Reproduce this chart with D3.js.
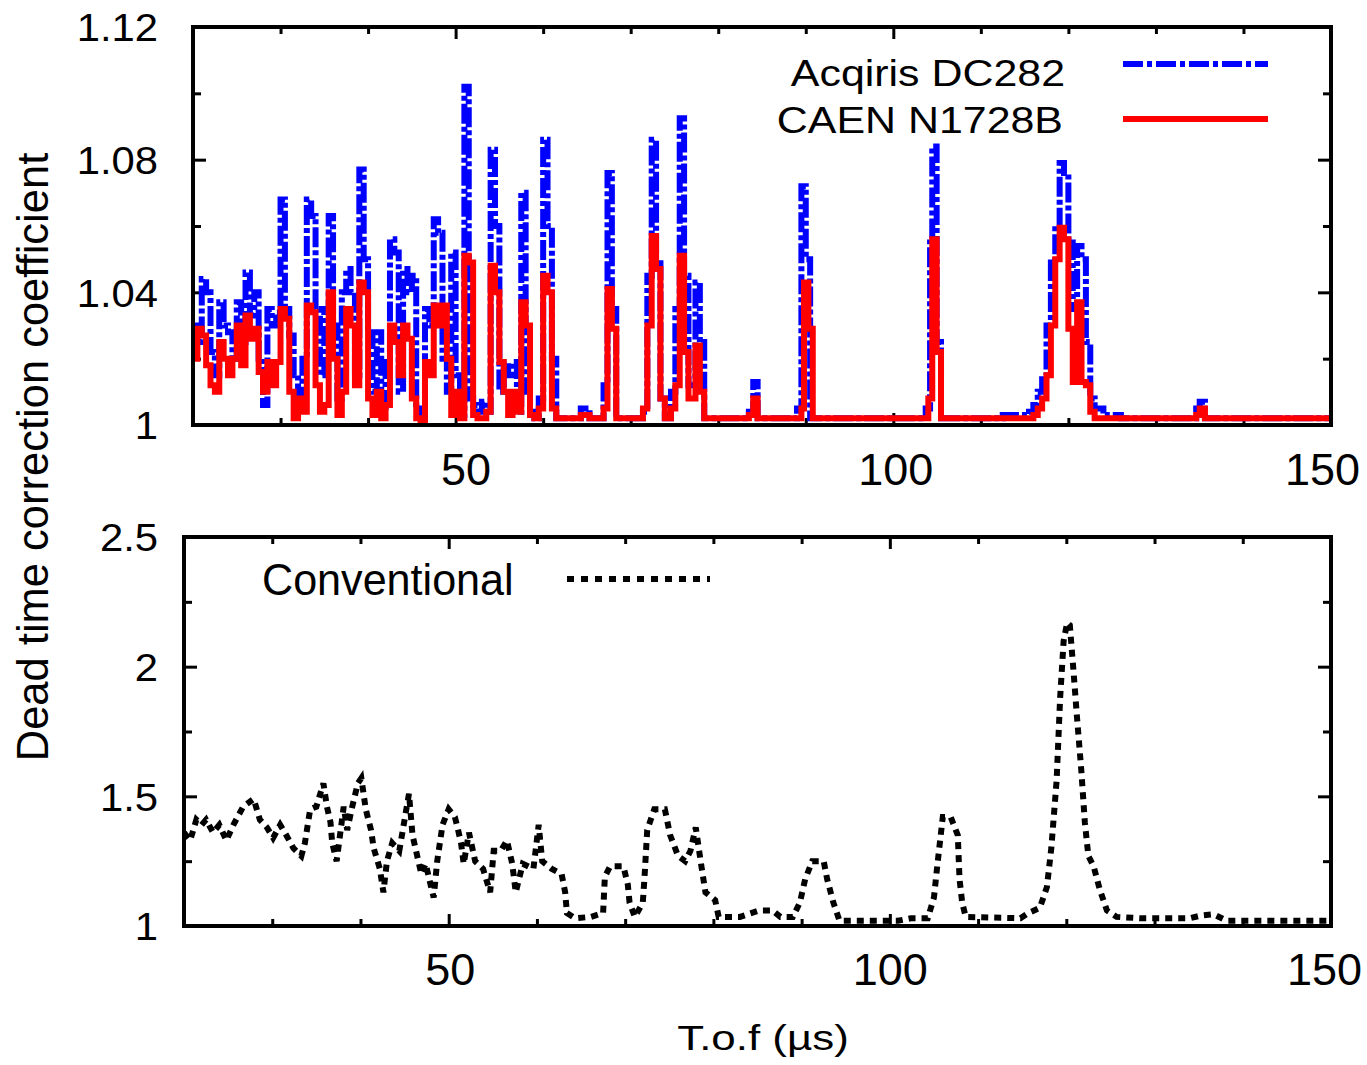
<!DOCTYPE html>
<html lang="en">
<head>
<meta charset="UTF-8">
<title>Dead time correction coefficient</title>
<script src="https://cdn.jsdelivr.net/npm/d3@7"></script>
<style>
    body {
        margin: 0;
        background: #fff;
    }
    svg text {
        font-family: 'Liberation Sans', Arial, Helvetica, sans-serif;
        fill: #000;
    }
    .tick line {
        stroke: #000;
        stroke-width: 3;
    }
    .xLab text {
        font-size: 45px;
    }
    .yLab text {
        font-size: 38px;
    }
</style>
</head>
<body>
<svg id="fig" width="1367" height="1065"></svg>
<script>
// ---- data ----
// top panel, Acqiris DC282 (blue, step line)
const acqT = [20,20.5,21,21.5,22,22.5,23,23.5,24,24.5,25,25.5,26,26.5,27,27.5,28,28.5,29,29.5,
    30,30.5,31,31.5,32,32.5,33,33.5,34,34.5,35,35.5,36,36.5,37,37.5,38,38.5,39,39.5,
    40,40.5,41,41.5,42,42.5,43,43.5,44,44.5,45,45.5,46,46.5,47,47.5,48,48.5,49,49.5,
    50,50.5,51,51.5,52,52.5,53,53.5,54,54.5,55,55.5,56,56.5,57,57.5,58,58.5,59,59.5,
    60,60.5,61,61.5,
    64.3,65.3,66.9,67.35,67.85,68.35,71.4,71.9,72.4,72.9,73.4,73.9,74.6,75.1,75.6,76.1,76.6,
    77.4,77.9,78.4,83.5,84,84.5,89,89.5,90,90.5,103.7,104.2,104.45,104.95,105.45,112.5,115.5,
    116,116.5,117,117.5,118,118.5,119,119.5,120,120.5,121,121.5,122,122.5,123,124,126,
    134.6,135,135.6,150]
const acqV = [1.030,1.025,1.044,1.040,1.022,1.015,1.037,1.030,1.028,1.020,1.037,1.025,1.046,1.033,1.040,1.020,1.006,1.035,1.030,1.034,
    1.068,1.035,1.027,1.015,1.005,1.020,1.068,1.063,1.035,1.015,1.035,1.063,1.030,1.008,1.040,1.047,1.040,1.015,1.077,1.050,
    1.028,1.010,1.028,1.004,1.020,1.056,1.052,1.010,1.047,1.040,1.045,1.005,1.002,1.035,1.030,1.062,1.058,1.020,1.010,1.052,
    1.015,1.003,1.102,1.008,1.006,1.004,1.007,1.004,1.083,1.060,1.010,1.019,1.015,1.019,1.004,1.070,1.010,1.004,1.002,1.008,
    1.086,1.060,1.020,1.002,
    1.005,1.002,1.012,1.076,1.035,1.002,1.004,1.045,1.086,1.050,1.008,1.002,1.010,1.035,1.0925,1.045,1.012,
    1.043,1.025,1.002,1.004,1.013,1.002,1.005,1.072,1.050,1.002,1.005,1.055,1.084,1.025,1.002,1.003,1.004,
    1.006,1.010,1.015,1.030,1.049,1.060,1.079,1.076,1.055,1.035,1.054,1.050,1.025,1.008,1.005,1.003,1.002,
    1.005,1.007,1.002,1.002]

// top panel, CAEN N1728B (red, step line)
const caenT = [20,20.5,21,21.5,22,22.5,23,23.5,24,24.5,25,25.5,26,26.5,27,27.5,28,28.5,29,29.5,
    30,30.5,31,31.5,32,32.5,33,33.5,34,34.5,35,35.5,36,36.5,37,37.5,38,38.5,39,39.5,
    40,40.5,41,41.5,42,42.5,43,43.5,44,44.5,45,45.5,46,46.5,47,47.5,48,48.5,49,49.5,
    50,50.5,51,51.5,52,52.5,53,53.5,54,54.5,55,55.5,56,56.5,57,57.5,58,58.5,59,59.5,
    60,60.5,61,61.5,
    64.3,65.3,66.9,67.35,67.85,68.35,71.4,71.9,72.4,72.9,73.4,73.9,74.6,75.1,75.6,76.1,76.6,
    77.4,77.9,78.4,83.5,84,84.5,89.5,89.8,90.3,90.8,104,104.45,104.95,105.45,
    116,116.5,117,117.5,118,118.5,119,119.5,120,120.5,121,121.5,122,122.5,123,
    134.6,135,135.6,150]
const caenV = [1.020,1.029,1.027,1.018,1.012,1.010,1.025,1.020,1.015,1.020,1.030,1.018,1.033,1.026,1.029,1.016,1.010,1.019,1.012,1.019,
    1.035,1.032,1.010,1.002,1.008,1.004,1.036,1.034,1.012,1.004,1.006,1.040,1.020,1.003,1.010,1.035,1.030,1.012,1.043,1.040,
    1.008,1.003,1.010,1.002,1.006,1.030,1.025,1.015,1.030,1.026,1.008,1.002,1.001,1.019,1.015,1.036,1.030,1.036,1.020,1.003,
    1.010,1.002,1.051,1.049,1.003,1.002,1.002,1.004,1.048,1.040,1.019,1.010,1.003,1.010,1.004,1.037,1.030,1.003,1.002,1.005,
    1.045,1.040,1.005,1.002,
    1.003,1.002,1.005,1.041,1.029,1.002,1.005,1.030,1.057,1.047,1.008,1.002,1.005,1.012,1.051,1.022,1.008,
    1.024,1.010,1.002,1.003,1.008,1.002,1.005,1.043,1.029,1.002,1.008,1.056,1.022,1.002,
    1.003,1.005,1.008,1.015,1.030,1.050,1.0595,1.056,1.029,1.013,1.037,1.013,1.012,1.004,1.002,
    1.003,1.005,1.002,1.002]

// bottom panel, conventional (black dotted line)
const convT = [20,20.7,21.4,22,22.5,23.3,24,24.8,25.6,26.7,27.9,28.6,29.4,30.1,30.9,31.6,32.4,33.3,33.7,34.3,
    35,35.8,36.2,36.6,36.8,37.3,38.1,38.5,39,39.7,40.1,40.6,41.2,41.5,42.2,42.6,43,43.6,44.4,44.8,
    45.5,45.9,46.3,46.9,47.4,47.8,48.3,48.7,49.3,50,50.7,51,51.4,51.7,52.3,53,53.9,54.7,55.1,55.9,
    56.6,57.2,57.6,58.4,59.6,60.2,60.6,61.7,62.8,63.2,63.4,64.3,66.1,67.5,67.7,68.3,69.8,70.3,70.5,71.1,
    72,72.2,72.5,73.3,74.5,75.1,76,76.8,77.4,78,78.6,79.1,80.2,80.6,83,85.2,86.7,87.6,89,89.8,
    90.4,91.2,92.5,92.9,93.6,94.3,100.9,102.4,104.3,105,105.4,106,106.9,107.7,107.9,108.2,108.6,114.8,115.7,117,
    117.8,118.3,118.9,119.3,119.7,120.1,120.4,120.8,121.2,121.7,122.1,122.5,123.1,123.8,124.6,125.7,128.3,134,135.2,136.7,
    138.2,150]
const convV = [1.36,1.33,1.41,1.39,1.41,1.36,1.39,1.33,1.39,1.46,1.49,1.41,1.38,1.34,1.39,1.35,1.30,1.27,1.32,1.45,
    1.46,1.55,1.46,1.40,1.32,1.25,1.46,1.37,1.45,1.55,1.57,1.45,1.37,1.30,1.22,1.13,1.25,1.32,1.29,1.37,
    1.51,1.35,1.29,1.20,1.24,1.18,1.11,1.25,1.39,1.45,1.42,1.38,1.32,1.24,1.36,1.25,1.22,1.13,1.29,1.29,
    1.33,1.24,1.13,1.24,1.22,1.39,1.25,1.22,1.20,1.13,1.05,1.03,1.035,1.05,1.19,1.23,1.23,1.16,1.09,1.035,
    1.09,1.19,1.37,1.45,1.45,1.35,1.27,1.25,1.29,1.38,1.24,1.13,1.10,1.035,1.035,1.06,1.06,1.035,1.035,1.09,
    1.18,1.25,1.25,1.18,1.09,1.02,1.02,1.03,1.03,1.11,1.24,1.42,1.42,1.35,1.18,1.09,1.035,1.03,1.05,1.07,
    1.15,1.30,1.56,1.88,2.10,2.17,2.16,1.99,1.81,1.60,1.40,1.27,1.23,1.14,1.06,1.035,1.03,1.03,1.04,1.045,
    1.02,1.02]

// ticks
const xDomain = [20, 150]
const xMajor = [50, 100, 150]
const xMinor = [30, 40, 60, 70, 80, 90, 110, 120, 130, 140]
const topYMajor = [1, 1.04, 1.08, 1.12]
const topYMinor = [1.02, 1.06, 1.10]
const botYMajor = [1, 1.5, 2, 2.5]
const botYMinor = [1.25, 1.75, 2.25]

// ---- drawing ----
let svg = d3.select('#fig')

let topBox = {left: 193, right: 1331, top: 27, bottom: 425}
let botBox = {left: 184, right: 1331, top: 537, bottom: 926}

let fmtY = d => String(+d.toFixed(2))

function makePanel(box, yDomain, yMajor, yMinor, yPad, xPad, xShift, id) {
    let x = d3.scaleLinear().domain(xDomain).range([box.left, box.right])
    let y = d3.scaleLinear().domain(yDomain).range([box.bottom, box.top])

    svg.append('clipPath').attr('id', id)
        .append('rect')
        .attr('x', box.left).attr('y', box.top)
        .attr('width', box.right - box.left).attr('height', box.bottom - box.top)

    //bottom axis with labels
    let xl = svg.append('g').attr('class', 'xLab')
        .attr('transform', `translate(0,${box.bottom})`)
        .call(d3.axisBottom(x).tickValues(xMajor).tickSize(-12).tickPadding(xPad).tickFormat(d3.format('d')))
    // small nudges so the labels sit like the original (150 kept inside the page)
    xl.selectAll('text').attr('x', (d, i) => xShift[i])
    svg.append('g')
        .attr('transform', `translate(0,${box.bottom})`)
        .call(d3.axisBottom(x).tickValues(xMinor).tickSize(-7).tickFormat(''))
    //top mirror
    svg.append('g')
        .attr('transform', `translate(0,${box.top})`)
        .call(d3.axisTop(x).tickValues(xMajor).tickSize(-12).tickFormat(''))
    svg.append('g')
        .attr('transform', `translate(0,${box.top})`)
        .call(d3.axisTop(x).tickValues(xMinor).tickSize(-7).tickFormat(''))

    //left axis with labels
    let yl = svg.append('g').attr('class', 'yLab')
        .attr('transform', `translate(${box.left},0)`)
        .call(d3.axisLeft(y).tickValues(yMajor).tickSize(-13).tickFormat(fmtY))
    yl.selectAll('text')
        .attr('x', 0)
        .attr('dy', '0.36em')
        .attr('transform', `translate(${-yPad},0) scale(1.1,1)`)
    svg.append('g')
        .attr('transform', `translate(${box.left},0)`)
        .call(d3.axisLeft(y).tickValues(yMinor).tickSize(-8).tickFormat(''))
    //right mirror
    svg.append('g')
        .attr('transform', `translate(${box.right},0)`)
        .call(d3.axisRight(y).tickValues(yMajor).tickSize(-13).tickFormat(''))
    svg.append('g')
        .attr('transform', `translate(${box.right},0)`)
        .call(d3.axisRight(y).tickValues(yMinor).tickSize(-8).tickFormat(''))

    svg.selectAll('.domain').remove()

    return {x: x, y: y}
}

function frame(box) {
    svg.append('rect')
        .attr('x', box.left).attr('y', box.top)
        .attr('width', box.right - box.left).attr('height', box.bottom - box.top)
        .attr('fill', 'none')
        .attr('stroke', '#000')
        .attr('stroke-width', 4)
}

function series(sc, ts, vs, clip, curve) {
    let line = d3.line()
        .x(d => sc.x(d[0]))
        .y(d => sc.y(d[1]))
        .curve(curve)
    return svg.append('path')
        .datum(d3.zip(ts, vs))
        .attr('clip-path', `url(#${clip})`)
        .attr('d', line)
        .attr('fill', 'none')
        .attr('stroke-linejoin', 'miter')
        .attr('stroke-linecap', 'butt')
}

function label(x, y, txt, size, sx, anchor) {
    svg.append('text')
        .attr('transform', `translate(${x},${y}) scale(${sx},1)`)
        .attr('text-anchor', anchor)
        .attr('font-size', size)
        .text(txt)
}

// top panel
let topSc = makePanel(topBox, [1, 1.12], topYMajor, topYMinor, 35, 28, [10, 2, -9], 'clipTop')
series(topSc, acqT, acqV, 'clipTop', d3.curveStepAfter)
    .attr('stroke', '#0000ff')
    .attr('stroke-width', 6)
    .attr('stroke-dasharray', '20,3,5,3')
series(topSc, caenT, caenV, 'clipTop', d3.curveStepAfter)
    .attr('stroke', '#ff0000')
    .attr('stroke-width', 6)
frame(topBox)

// top legend
label(1065, 86, 'Acqiris DC282', 37, 1.16, 'end')
label(1063, 133, 'CAEN N1728B', 37, 1.16, 'end')
svg.append('line')
    .attr('x1', 1123).attr('x2', 1268).attr('y1', 64).attr('y2', 64)
    .attr('stroke', '#0000ff').attr('stroke-width', 6)
    .attr('stroke-dasharray', '20,4,5,4')
svg.append('line')
    .attr('x1', 1123).attr('x2', 1268).attr('y1', 119).attr('y2', 119)
    .attr('stroke', '#ff0000').attr('stroke-width', 6)

// bottom panel
let botSc = makePanel(botBox, [1, 2.5], botYMajor, botYMinor, 26, 27, [1, 0, -7], 'clipBot')
series(botSc, convT, convV, 'clipBot', d3.curveLinear)
    .attr('stroke', '#000')
    .attr('stroke-width', 6)
    .attr('stroke-dasharray', '7,6')
frame(botBox)

// bottom legend
label(262, 595, 'Conventional', 44, 0.98, 'start')
svg.append('line')
    .attr('x1', 567).attr('x2', 710).attr('y1', 579).attr('y2', 579)
    .attr('stroke', '#000').attr('stroke-width', 6)
    .attr('stroke-dasharray', '7,7')

// axis titles
label(763, 1050, 'T.o.f (\u00b5s)', 36, 1.22, 'middle')
svg.append('text')
    .attr('transform', 'translate(48,457) rotate(-90)')
    .attr('text-anchor', 'middle')
    .attr('font-size', 43.5)
    .text('Dead time correction coefficient')
</script>
</body>
</html>
